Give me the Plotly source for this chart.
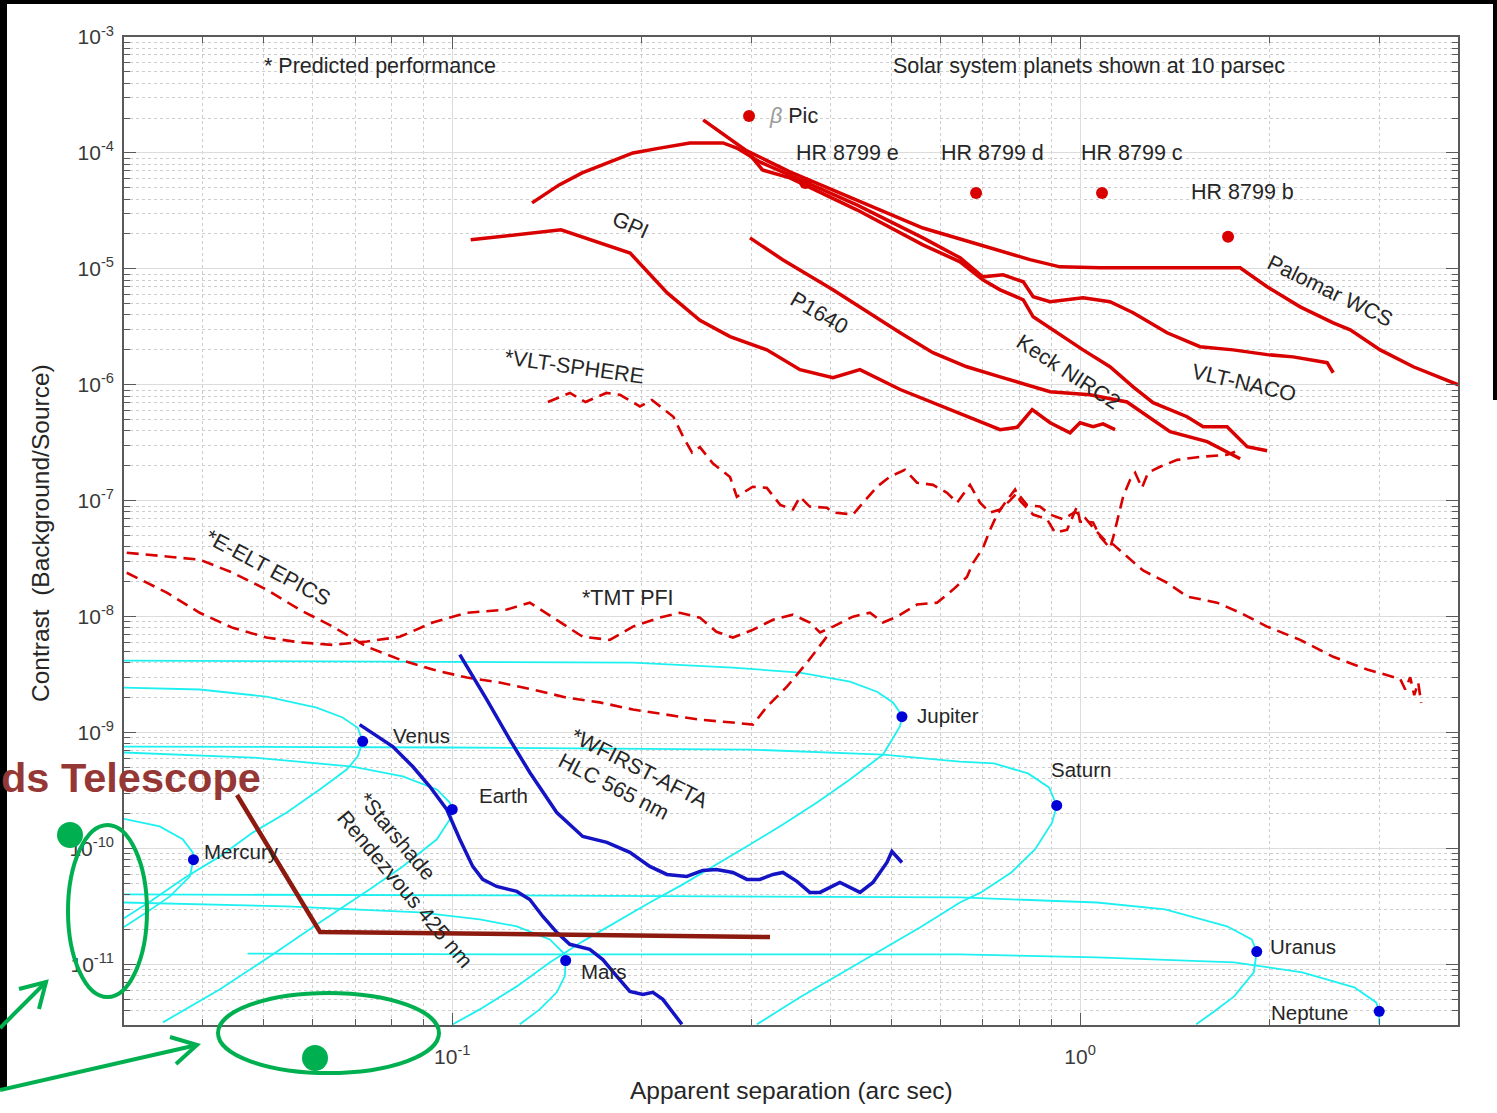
import numpy as np
import plotly.graph_objects as go

# ------------------------------------------------------------------ data
# Ground-based instruments (solid red)
gpi_x = [0.107, 0.119, 0.149, 0.192, 0.220, 0.248, 0.277, 0.317, 0.358, 0.404, 0.446,
         0.517, 0.621, 0.746, 0.794, 0.839, 0.896, 0.964, 1.000, 1.049, 1.088, 1.137]
gpi_y = [1.78e-5, 1.89e-5, 2.17e-5, 1.37e-5, 6.2e-6, 3.6e-6, 2.6e-6, 2.0e-6, 1.35e-6, 1.15e-6, 1.35e-6,
         9.1e-7, 6.1e-7, 4.1e-7, 4.3e-7, 6.1e-7, 4.7e-7, 3.85e-7, 4.7e-7, 4.35e-7, 4.6e-7, 4.1e-7]

p1640_x = [0.298, 0.336, 0.404, 0.458, 0.517, 0.583, 0.660, 0.746, 0.896, 1.037, 1.188, 1.391, 1.594, 1.799]
p1640_y = [1.85e-5, 1.20e-5, 6.6e-6, 4.26e-6, 2.81e-6, 1.89e-6, 1.43e-6, 1.17e-6, 8.7e-7, 8.2e-7, 7.1e-7,
           3.94e-7, 3.23e-7, 2.30e-7]

keck_x = [0.298, 0.312, 0.345, 0.441, 0.562, 0.644, 0.700, 0.746, 0.812, 0.842, 1.011, 1.116, 1.215,
          1.307, 1.481, 1.571, 1.715, 1.846, 1.986]
keck_y = [9.6e-5, 7.13e-5, 6.09e-5, 3.23e-5, 1.61e-5, 1.15e-5, 8.04e-6, 6.59e-6, 5.41e-6, 3.86e-6, 2.0e-6,
          1.43e-6, 9.6e-7, 7.0e-7, 5.3e-7, 4.35e-7, 4.35e-7, 2.92e-7, 2.70e-7]

naco_x = [0.134, 0.148, 0.161, 0.178, 0.194, 0.214, 0.239, 0.270, 0.284, 0.309, 0.358, 0.441, 0.562, 0.644,
          0.700, 0.754, 0.812, 0.842, 0.896, 1.011, 1.116, 1.215, 1.376, 1.553, 1.753, 1.986, 2.185, 2.413,
          2.475, 2.531]
naco_y = [3.71e-5, 5.30e-5, 6.73e-5, 8.36e-5, 1.0e-4, 1.10e-4, 1.22e-4, 1.22e-4, 1.10e-4, 8.36e-5, 5.85e-5,
          3.56e-5, 1.85e-5, 1.245e-5, 8.53e-6, 8.87e-6, 7.73e-6, 5.74e-6, 5.20e-6, 5.62e-6, 5.20e-6, 4.18e-6,
          2.81e-6, 2.13e-6, 2.0e-6, 1.82e-6, 1.74e-6, 1.58e-6, 1.55e-6, 1.27e-6]

palomar_x = [0.251, 0.293, 0.345, 0.441, 0.562, 0.675, 0.832, 0.929, 1.076, 1.799, 1.986, 2.242, 2.531,
             2.694, 3.007, 3.395, 4.004]
palomar_y = [1.93e-4, 1.06e-4, 6.86e-5, 3.94e-5, 2.25e-5, 1.68e-5, 1.20e-5, 1.04e-5, 1.02e-5, 1.02e-5,
             7.0e-6, 4.7e-6, 3.42e-6, 2.98e-6, 2.0e-6, 1.43e-6, 1.0e-6]

# Predicted performance (dashed red)
sphere_x = [0.142, 0.154, 0.163, 0.176, 0.185, 0.199, 0.208, 0.225, 0.233, 0.241, 0.248, 0.260, 0.277, 0.284,
            0.301, 0.317, 0.333, 0.349, 0.358, 0.371, 0.395, 0.404, 0.425, 0.435, 0.451, 0.475, 0.498, 0.526,
            0.550, 0.583, 0.614, 0.637, 0.668, 0.693, 0.719, 0.746, 0.773, 0.794, 0.823, 0.863, 0.896, 0.940,
            0.982, 1.019, 1.057, 1.104, 1.129, 1.188, 1.260, 1.376, 1.481, 1.653, 1.799, 1.986, 2.242, 2.531,
            2.867, 3.236, 3.296, 3.357, 3.407, 3.457, 3.495]
sphere_y = [7.1e-7, 8.5e-7, 7.1e-7, 8.5e-7, 8.2e-7, 6.5e-7, 7.4e-7, 5.3e-7, 3.6e-7, 2.6e-7, 2.9e-7, 2.1e-7,
            1.6e-7, 1.08e-7, 1.32e-7, 1.29e-7, 9.2e-8, 8.4e-8, 1.08e-7, 8.9e-8, 8.7e-8, 7.9e-8, 7.7e-8, 7.6e-8,
            9.6e-8, 1.32e-7, 1.61e-7, 1.85e-7, 1.43e-7, 1.37e-7, 1.17e-7, 9.6e-8, 1.37e-7, 9.6e-8, 7.9e-8,
            8.4e-8, 1.0e-7, 1.17e-7, 9.2e-8, 8.9e-8, 7.6e-8, 6.9e-8, 8.0e-8, 7.1e-8, 5.6e-8, 4.35e-8, 4.2e-8,
            3.3e-8, 2.5e-8, 1.96e-8, 1.49e-8, 1.32e-8, 1.08e-8, 8.2e-9, 6.3e-9, 4.5e-9, 3.5e-9, 2.9e-9, 2.35e-9,
            3.0e-9, 2.1e-9, 2.7e-9, 1.8e-9]

tmt_x = [0.0303, 0.0351, 0.0396, 0.0447, 0.0506, 0.0571, 0.0645, 0.0731, 0.0825, 0.0931, 0.1055, 0.1222,
         0.1329, 0.1484, 0.1614, 0.1782, 0.1940, 0.2142, 0.2304, 0.2480, 0.2635, 0.2799, 0.3013, 0.3243,
         0.3488, 0.3712, 0.3852, 0.4041, 0.4348, 0.4627, 0.4854, 0.5110, 0.5499, 0.5917, 0.6277, 0.6604,
         0.6753, 0.7003, 0.7190, 0.7376, 0.7596, 0.7879, 0.8025, 0.8417, 0.8861, 0.9124, 0.9535, 0.9890,
         1.000, 1.049, 1.076, 1.116, 1.129, 1.171, 1.202, 1.224, 1.255, 1.283, 1.341, 1.428, 1.553, 1.715, 1.766]
tmt_y = [2.39e-8, 1.61e-8, 1.08e-8, 8.0e-9, 6.6e-9, 6.0e-9, 5.7e-9, 6.1e-9, 6.7e-9, 8.9e-9, 1.08e-8, 1.15e-8,
         1.32e-8, 8.9e-9, 6.7e-9, 6.3e-9, 8.2e-9, 9.8e-9, 1.08e-8, 9.8e-9, 7.4e-9, 6.6e-9, 7.7e-9, 9.4e-9,
         1.04e-8, 8.9e-9, 7.3e-9, 8.2e-9, 1.0e-8, 1.08e-8, 8.9e-9, 1.0e-8, 1.27e-8, 1.32e-8, 1.71e-8, 2.2e-8,
         2.9e-8, 3.9e-8, 5.6e-8, 7.6e-8, 9.6e-8, 1.25e-7, 1.0e-7, 7.6e-8, 6.9e-8, 5.3e-8, 5.6e-8, 8.9e-8,
         6.6e-8, 6.5e-8, 4.9e-8, 3.9e-8, 4.8e-8, 1.08e-7, 1.52e-7, 1.74e-7, 1.29e-7, 1.74e-7, 1.96e-7, 2.25e-7,
         2.39e-7, 2.49e-7, 2.64e-7]

epics_x = [0.0303, 0.0396, 0.0447, 0.0506, 0.0571, 0.0645, 0.0731, 0.0825, 0.0931, 0.1055, 0.1190, 0.1344,
           0.1522, 0.1718, 0.1940, 0.2197, 0.2480, 0.2799, 0.3013, 0.3171, 0.3413, 0.3673, 0.3952]
epics_y = [3.56e-8, 3.10e-8, 2.39e-8, 1.71e-8, 1.15e-8, 8.2e-9, 5.5e-9, 4.26e-9, 3.49e-9, 2.98e-9, 2.70e-9,
           2.35e-9, 2.0e-9, 1.82e-9, 1.58e-9, 1.43e-9, 1.29e-9, 1.22e-9, 1.17e-9, 1.67e-9, 2.49e-9, 4.01e-9,
           6.73e-9]

# Space missions (blue)
hlc_x = [0.1028, 0.1067, 0.1135, 0.1235, 0.1329, 0.1467, 0.1614, 0.1763, 0.1918, 0.2064, 0.2197, 0.2364,
         0.2506, 0.2635, 0.2799, 0.2947, 0.3090, 0.3243, 0.3363, 0.3540, 0.3712, 0.3852, 0.4145, 0.4462,
         0.4678, 0.4925, 0.5016, 0.5204]
hlc_y = [4.70e-9, 3.36e-9, 1.92e-9, 8.7e-10, 4.52e-10, 2.04e-10, 1.27e-10, 1.13e-10, 9.25e-11, 7.0e-11,
         5.97e-11, 5.74e-11, 6.46e-11, 6.59e-11, 6.21e-11, 5.41e-11, 5.41e-11, 5.97e-11, 6.21e-11, 5.20e-11,
         4.18e-11, 4.18e-11, 5.09e-11, 4.18e-11, 5.09e-11, 7.57e-11, 9.42e-11, 7.57e-11]

ss_x = [0.0712, 0.0758, 0.0804, 0.0865, 0.0921, 0.0980, 0.1028, 0.1078, 0.1118, 0.1177, 0.1267, 0.1329,
        0.1394, 0.1467, 0.1539, 0.1656, 0.1737, 0.1829, 0.1918, 0.2012, 0.2087, 0.2165, 0.2246, 0.2322]
ss_y = [1.17e-9, 9.42e-10, 7.57e-10, 5.09e-10, 3.42e-10, 2.17e-10, 1.20e-10, 7.0e-11, 5.41e-11, 4.70e-11,
        4.26e-11, 3.63e-11, 2.59e-11, 1.89e-11, 1.49e-11, 1.35e-11, 1.10e-11, 7.89e-12, 5.85e-12, 5.51e-12,
        5.74e-12, 4.99e-12, 3.86e-12, 3.04e-12]

# Solar-system planet phase tracks at 10 pc (cyan)
mercury_cx = [0.030, 0.0342, 0.0372, 0.0386, 0.0387, 0.0382, 0.0355, 0.0326, 0.030]
mercury_cy = [1.8e-10, 1.55e-10, 1.20e-10, 9.25e-11, 8.0e-11, 5.74e-11, 3.86e-11, 2.81e-11, 2.1e-11]
venus_cx = [0.030, 0.0396, 0.0506, 0.0608, 0.0669, 0.0707, 0.0720, 0.0707, 0.0679, 0.0615, 0.0545, 0.0481,
            0.0426, 0.0377, 0.0333, 0.030]
venus_cy = [2.44e-9, 2.35e-9, 2.04e-9, 1.64e-9, 1.35e-9, 1.10e-9, 8.4e-10, 6.2e-10, 4.8e-10, 3.23e-10,
            2.04e-10, 1.37e-10, 8.5e-11, 5.7e-11, 3.6e-11, 2.5e-11]
earth_cx = [0.030, 0.0481, 0.0694, 0.0834, 0.0945, 0.0991, 0.100, 0.0991, 0.0945, 0.0834, 0.0739, 0.0615,
            0.0512, 0.0426, 0.0346]
earth_cy = [6.73e-10, 6.08e-10, 5.09e-10, 4.18e-10, 3.23e-10, 2.49e-10, 2.17e-10, 1.78e-10, 1.20e-10, 7.0e-11,
            4.44e-11, 2.30e-11, 1.17e-11, 6.08e-12, 3.16e-12]
mars_cx = [0.030, 0.0545, 0.0888, 0.1106, 0.1267, 0.1430, 0.1500, 0.1516, 0.1511, 0.1467, 0.1378, 0.1281]
mars_cy = [3.42e-11, 3.16e-11, 2.81e-11, 2.44e-11, 2.13e-11, 1.64e-11, 1.27e-11, 1.08e-11, 7.89e-12, 5.74e-12,
           4.09e-12, 3.04e-12]
jupiter_cx = [0.030, 0.1190, 0.1940, 0.2799, 0.3580, 0.4300, 0.4749, 0.5035, 0.5166, 0.5204, 0.5166, 0.4854,
              0.4300, 0.3810, 0.3363, 0.2980, 0.2635, 0.2330, 0.2064, 0.1829, 0.1614, 0.1430, 0.1267, 0.1106,
              0.1002]
jupiter_cy = [4.18e-9, 4.09e-9, 4.01e-9, 3.63e-9, 3.29e-9, 2.75e-9, 2.25e-9, 1.82e-9, 1.49e-9, 1.37e-9,
              1.13e-9, 6.46e-10, 3.94e-10, 2.49e-10, 1.61e-10, 1.08e-10, 7.28e-11, 4.90e-11, 3.42e-11, 2.35e-11,
              1.58e-11, 1.04e-11, 6.46e-12, 4.09e-12, 3.04e-12]
saturn_cx = [0.030, 0.0991, 0.2980, 0.4854, 0.6437, 0.7294, 0.8262, 0.8925, 0.9180, 0.9024, 0.8478, 0.7770,
             0.6953, 0.6437, 0.5559, 0.4854, 0.4145, 0.3580, 0.3057]
saturn_cy = [7.57e-10, 7.43e-10, 7.13e-10, 6.46e-10, 5.62e-10, 5.41e-10, 4.44e-10, 3.36e-10, 2.35e-10,
             1.67e-10, 9.8e-11, 6.21e-11, 4.18e-11, 3.42e-11, 2.08e-11, 1.35e-11, 8.2e-12, 5.20e-12, 3.04e-12]
uranus_cx = [0.030, 0.1190, 0.6437, 1.0645, 1.366, 1.715, 1.877, 1.912, 1.891, 1.760, 1.629, 1.531]
uranus_cy = [4.01e-11, 3.94e-11, 3.78e-11, 3.42e-11, 2.98e-11, 2.13e-11, 1.64e-11, 1.29e-11, 8.53e-12,
             5.30e-12, 3.86e-12, 3.04e-12]
neptune_cx = [0.0472, 0.1190, 0.6437, 1.0645, 1.760, 2.259, 2.734, 2.963, 2.996, 2.996]
neptune_cy = [1.24e-11, 1.22e-11, 1.22e-11, 1.15e-11, 1.04e-11, 8.53e-12, 6.34e-12, 4.70e-12, 3.94e-12, 3.04e-12]

planet_names = ["Mercury", "Venus", "Earth", "Mars", "Jupiter", "Saturn", "Uranus", "Neptune"]
planet_sep = [0.0387, 0.0720, 0.100, 0.1516, 0.5204, 0.918, 1.912, 2.996]
planet_con = [8.0e-11, 8.4e-10, 2.17e-10, 1.08e-11, 1.37e-9, 2.35e-10, 1.29e-11, 3.94e-12]

exo_names = ["β Pic", "HR 8799 e", "HR 8799 d", "HR 8799 c", "HR 8799 b"]
exo_sep = [0.297, 0.365, 0.683, 1.084, 1.721]
exo_con = [2.08e-4, 5.51e-5, 4.52e-5, 4.52e-5, 1.89e-5]

x_major = [0.1, 1.0]
x_major_text = ["10<sup>-1</sup>", "10<sup>0</sup>"]
y_major = [1e-11, 1e-10, 1e-9, 1e-8, 1e-7, 1e-6, 1e-5, 1e-4, 1e-3]
y_major_text = ["10<sup>-11</sup>", "10<sup>-10</sup>", "10<sup>-9</sup>", "10<sup>-8</sup>", "10<sup>-7</sup>",
                "10<sup>-6</sup>", "10<sup>-5</sup>", "10<sup>-4</sup>", "10<sup>-3</sup>"]

# ------------------------------------------------------------------ style
RED = "#D90000"
BLUE = "#1414C4"
CYAN = "#1EF0F0"
TXT = "#262626"
AX = "#5a5a5a"
FONT = "Liberation Sans, Arial, Helvetica, sans-serif"
W, H = 1497, 1113
L_PX, T_PX, R_PX, B_PX = 124, 37, 1458, 1025


def P(px, py):
    """figure pixel -> paper fraction (for layout decorations)"""
    return (px - L_PX) / (R_PX - L_PX), (B_PX - py) / (B_PX - T_PX)


fig = go.Figure()


def add_line(x, y, color, width, dash="solid"):
    fig.add_trace(go.Scatter(x=x, y=y, mode="lines", hoverinfo="skip", showlegend=False,
                             line=dict(color=color, width=width, dash=dash)))


for cx, cy in [(mercury_cx, mercury_cy), (venus_cx, venus_cy), (earth_cx, earth_cy), (mars_cx, mars_cy),
               (jupiter_cx, jupiter_cy), (saturn_cx, saturn_cy), (uranus_cx, uranus_cy),
               (neptune_cx, neptune_cy)]:
    add_line(cx, cy, CYAN, 1.8)

for dx, dy in [(epics_x, epics_y), (tmt_x, tmt_y), (sphere_x, sphere_y)]:
    add_line(dx, dy, RED, 2.6, "12px,7px")

for sx, sy in [(gpi_x, gpi_y), (p1640_x, p1640_y), (keck_x, keck_y), (naco_x, naco_y),
               (palomar_x, palomar_y)]:
    add_line(sx, sy, RED, 3.5)

add_line(hlc_x, hlc_y, BLUE, 3.5)
add_line(ss_x, ss_y, BLUE, 3.5)

fig.add_trace(go.Scatter(x=planet_sep, y=planet_con, mode="markers", hoverinfo="skip", showlegend=False,
                         marker=dict(color="#0000D8", size=11, line=dict(width=0))))
fig.add_trace(go.Scatter(x=exo_sep, y=exo_con, mode="markers", hoverinfo="skip", showlegend=False,
                         marker=dict(color=RED, size=12, line=dict(width=0))))

x_minor = [m * 10.0 ** k for k in (-2, -1, 0) for m in range(2, 10) if 0.03 < m * 10.0 ** k < 4.01]
y_minor = [m * 10.0 ** k for k in range(-12, -3) for m in range(2, 10) if 3e-12 < m * 10.0 ** k < 1e-3]

common = dict(type="log", showline=True, linecolor=AX, linewidth=1.6, mirror="allticks",
              ticks="inside", ticklen=12, tickwidth=1.3, tickcolor=AX,
              showgrid=True, gridcolor="#dcdcdc", gridwidth=1, zeroline=False,
              tickfont=dict(family=FONT, size=21, color="#3a3a3a"))

fig.update_layout(
    width=W, height=H, autosize=False,
    margin=dict(l=L_PX, r=W - R_PX, t=T_PX, b=H - B_PX),
    paper_bgcolor="white", plot_bgcolor="white", showlegend=False,
    font=dict(family=FONT, color=TXT),
    xaxis=dict(range=[np.log10(0.03), np.log10(4.0)], tickvals=x_major, ticktext=x_major_text,
               ticklabelstandoff=12,
               minor=dict(tickvals=x_minor, ticks="inside", ticklen=6, tickcolor=AX, tickwidth=1,
                          showgrid=True, gridcolor="#cdcdcd", griddash="3px,3px", gridwidth=1),
               **common),
    yaxis=dict(range=[np.log10(3e-12), -3], tickvals=y_major, ticktext=y_major_text,
               ticklabelstandoff=4,
               minor=dict(tickvals=y_minor, ticks="inside", ticklen=6, tickcolor=AX, tickwidth=1,
                          showgrid=True, gridcolor="#cdcdcd", griddash="3px,3px", gridwidth=1),
               **common),
)


def note(text, px, py, size=21.5, xanchor="left", angle=0, color=TXT, align="left", bold=False):
    x, y = P(px, py)
    fam = "Liberation Sans, Arial, sans-serif"
    fig.add_annotation(x=x, y=y, xref="paper", yref="paper", text=("<b>%s</b>" % text) if bold else text,
                       showarrow=False, xanchor=xanchor, yanchor="middle", textangle=angle, align=align,
                       font=dict(family=fam, size=size, color=color))


# header notes
note("* Predicted performance", 262, 66)
note("Solar system planets shown at 10 parsec", 891, 66)

# exoplanet labels
note('<span style="color:#9a9a9a"><i>β</i></span> Pic', 767, 116)
note(exo_names[1], 794, 153)
note(exo_names[2], 939, 153)
note(exo_names[3], 1079, 153)
note(exo_names[4], 1189, 192)

# planet labels
for name, (px, py) in zip(planet_names, [(202, 851), (391, 735), (477, 795), (579, 971), (915, 715),
                                         (1049, 770), (1268, 946), (1269, 1012)]):
    note(name, px, py, size=20.5)

# curve labels
note("GPI", 630, 225, xanchor="center", angle=24)
note("P1640", 819, 313, xanchor="center", angle=30)
note("Keck NIRC2", 1068, 372, xanchor="center", angle=33)
note("VLT-NACO", 1244, 383, xanchor="center", angle=13)
note("Palomar WCS", 1330, 291, xanchor="center", angle=26)
note("*VLT-SPHERE", 574, 367, xanchor="center", angle=8)
note("*E-ELT EPICS", 268, 568, xanchor="center", angle=28)
note("*TMT PFI", 628, 598, xanchor="center", angle=0)
note("*WFIRST-AFTA<br>HLC 565 nm", 633, 781, xanchor="center", angle=27)
note("*Starshade<br>Rendezvous 425 nm", 415, 880, xanchor="center", angle=50)

# axis titles
note("Apparent separation (arc sec)", 791, 1090, size=24.5, xanchor="center")
note("Contrast  (Background/Source)", 40, 533, size=24.5, xanchor="center", angle=-90)

# slide overlay: title fragment
note("ds Telescope", 263, 777, size=41.5, xanchor="right", color="#953735", bold=True)

# ------------------------------------------------------------------ overlay shapes
shapes = []


def rect(x0, y0, x1, y1, color):
    a, b = P(x0, y1)
    c, d = P(x1, y0)
    shapes.append(dict(type="rect", xref="paper", yref="paper", x0=a, y0=b, x1=c, y1=d,
                       fillcolor=color, line=dict(width=0), layer="above"))


def ellipse(x0, y0, x1, y1, color, width=0, fill=None):
    a, b = P(x0, y1)
    c, d = P(x1, y0)
    shapes.append(dict(type="circle", xref="paper", yref="paper", x0=a, y0=b, x1=c, y1=d,
                       fillcolor=fill if fill else "rgba(0,0,0,0)",
                       line=dict(color=color, width=width), layer="above"))


def path(pts, color, width):
    q = [P(*p) for p in pts]
    d = "M " + " L ".join("%.5f,%.5f" % t for t in q)
    shapes.append(dict(type="path", xref="paper", yref="paper", path=d,
                       line=dict(color=color, width=width), layer="above"))


# black slide borders
rect(0, 0, W, 4, "black")
rect(0, 0, 7, 1090, "black")
rect(1493, 0, W, 400, "black")

# dark red marker line
path([(237, 795), (320, 932), (770, 937)], "#8C1A0F", 4.5)

# green highlights
GREEN = "#00B050"
ellipse(68, 825, 147, 997, GREEN, width=4)
ellipse(218, 993, 439, 1073, GREEN, width=4)
ellipse(57, 822, 83, 848, GREEN, fill=GREEN)
ellipse(302, 1045, 328, 1071, GREEN, fill=GREEN)
path([(0, 1028), (46, 982)], GREEN, 4)
path([(19, 989), (46, 982), (39, 1009)], GREEN, 4)
path([(0, 1090), (197, 1045)], GREEN, 4)
path([(170, 1037), (197, 1045), (176, 1064)], GREEN, 4)

fig.update_layout(shapes=shapes)

fig.write_html("out.html", config={"displayModeBar": False})
